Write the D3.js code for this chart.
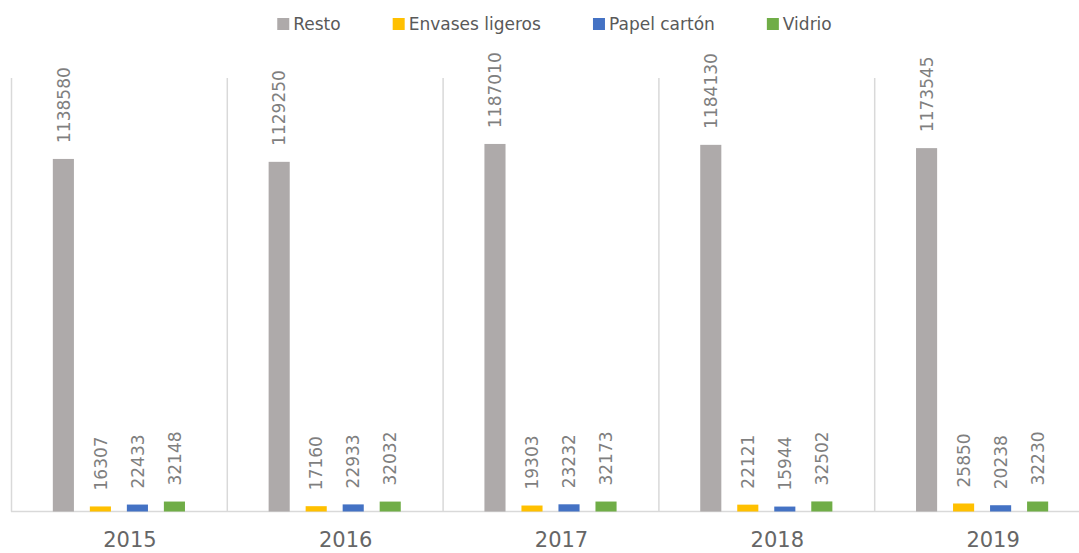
<!DOCTYPE html>
<html>
<head>
<meta charset="utf-8">
<script src="https://cdn.jsdelivr.net/npm/d3@7"></script>
<style>
  body { margin: 0; background: #fff; }
  text { font-family: "DejaVu Sans", sans-serif; }
</style>
</head>
<body>
<svg id="chart"></svg>
<script>
const years = ["2015", "2016", "2017", "2018", "2019"]
const series = ["Resto", "Envases ligeros", "Papel cartón", "Vidrio"]
const colors = ["#AEAAAA", "#FFC000", "#4472C4", "#70AD47"]

const resto = [1138580, 1129250, 1187010, 1184130, 1173545]
const envases = [16307, 17160, 19303, 22121, 25850]
const papel = [22433, 22933, 23232, 15944, 20238]
const vidrio = [32148, 32032, 32173, 32502, 32230]

const values = [resto, envases, papel, vidrio]

const w = 1079
const h = 553
const m = ({t: 78, b: 41.5, l: 11, r: -11})

const svg = d3.select("#chart")
    .attr("width", w)
    .attr("height", h)

const x0 = d3.scaleBand()
    .domain(years)
    .range([m.l, w - m.r])

const x1 = d3.scaleBand()
    .domain(series)
    .range([0, x0.bandwidth()])
    .paddingInner(0.43)
    .paddingOuter(1.13)

const y = d3.scaleLinear()
    .domain([0, 1400000])
    .range([h - m.b, m.t])

const color = d3.scaleOrdinal().domain(series).range(colors)

// separators between the years
svg.append("g")
    .selectAll("line")
    .data(years)
    .join("line")
    .attr("x1", d => x0(d) + 0.5)
    .attr("x2", d => x0(d) + 0.5)
    .attr("y1", y.range()[1])
    .attr("y2", y(0))
    .attr("stroke", "#d9d9d9")
    .attr("stroke-width", 1.5)

// baseline
svg.append("line")
    .attr("x1", m.l)
    .attr("x2", w)
    .attr("y1", y(0))
    .attr("y2", y(0))
    .attr("stroke", "#d9d9d9")
    .attr("stroke-width", 1.5)

const rows = []
years.forEach((yr, i) => {
    series.forEach((s, j) => rows.push({year: yr, key: s, value: values[j][i]}))
})

const groups = svg.append("g")

groups.selectAll("rect")
    .data(rows)
    .join("rect")
    .attr("x", d => x0(d.year) + x1(d.key))
    .attr("y", d => y(d.value))
    .attr("width", x1.bandwidth())
    .attr("height", d => y(0) - y(d.value))
    .attr("fill", d => color(d.key))

groups.selectAll("text")
    .data(rows)
    .join("text")
    .attr("transform", d => `translate(${x0(d.year) + x1(d.key) + x1.bandwidth() / 2}, ${y(d.value) - 16}) rotate(-90)`)
    .attr("dy", "0.36em")
    .attr("text-anchor", "start")
    .attr("font-size", 17)
    .attr("fill", "#7f7f7f")
    .text(d => d.value)

// year labels
const xAxis = svg.append("g")
    .attr("transform", `translate(11, ${y(0)})`)
    .call(d3.axisBottom(x0).tickSize(0).tickPadding(0))

xAxis.select(".domain").remove()
xAxis.selectAll("text")
    .attr("dy", null)
    .attr("y", 35)
    .attr("font-size", 21)
    .attr("font-family", "DejaVu Sans, sans-serif")
    .attr("fill", "#666666")

// legend
const legend = svg.append("g")
const items = legend.selectAll("g")
    .data(series)
    .join("g")

items.append("rect")
    .attr("y", 18)
    .attr("width", 12)
    .attr("height", 12)
    .attr("fill", d => color(d))

items.append("text")
    .attr("x", 16)
    .attr("y", 24)
    .attr("dy", "0.36em")
    .attr("font-size", 17)
    .attr("fill", "#595959")
    .text(d => d)

let pos = 0
items.each(function() {
    d3.select(this).attr("transform", `translate(${pos}, 0)`)
    pos += this.getBBox().width + 52
})
legend.attr("transform", `translate(${255 + (854 - 255 - (pos - 52)) / 2}, 0)`)
</script>
</body>
</html>
